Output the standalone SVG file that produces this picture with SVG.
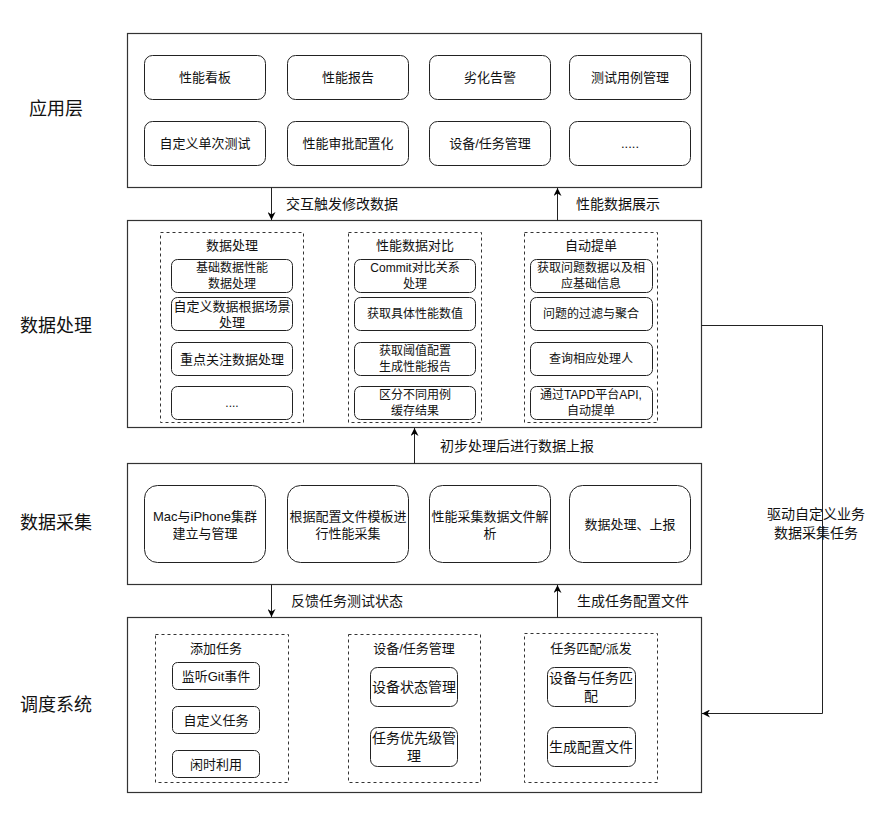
<svg xmlns="http://www.w3.org/2000/svg" width="877" height="839" viewBox="0 0 877 839">
  <style>
    text { font-family: "Liberation Sans", "Noto Sans CJK SC", sans-serif; fill: #111; text-anchor: middle; dominant-baseline: central; }
    .layer { fill: #fff; stroke: #333; stroke-width: 1.2; }
    .box { fill: #fff; stroke: #222; stroke-width: 1; }
    .grp { fill: none; stroke: #333; stroke-width: 1; stroke-dasharray: 3 3; }
    .side { font-size: 18px; }
    .t13 { font-size: 13px; }
    .t12 { font-size: 12px; }
    .t14 { font-size: 14px; }
    .lbl { font-size: 14px; text-anchor: start; }
    .edge { fill: none; stroke: #222; stroke-width: 1; }
  </style>
  <defs>
    <marker id="arrow" viewBox="0 0 10 10" refX="10" refY="5" markerWidth="8" markerHeight="8" markerUnits="userSpaceOnUse" orient="auto">
      <path d="M0,0 L10,5 L0,10 L3,5 Z" fill="#000"/>
    </marker>
  </defs>

  <rect width="877" height="839" fill="#fff"/>

  <!-- layer titles -->
  <g id="layer-titles">
    <text class="side" x="56" y="109">应用层</text>
    <text class="side" x="56" y="326">数据处理</text>
    <text class="side" x="56" y="523">数据采集</text>
    <text class="side" x="56" y="705">调度系统</text>
  </g>

  <!-- application layer -->
  <g id="app-layer">
    <rect class="layer" x="127.5" y="33.5" width="574" height="154"/>
    <g id="app-dashboard"><rect class="box" x="144.5" y="55.5" width="121" height="44" rx="8"/><text class="t13" x="205" y="77.5">性能看板</text></g>
    <g id="app-report"><rect class="box" x="287.5" y="55.5" width="121" height="44" rx="8"/><text class="t13" x="348" y="77.5">性能报告</text></g>
    <g id="app-alert"><rect class="box" x="429.5" y="55.5" width="121" height="44" rx="8"/><text class="t13" x="490" y="77.5">劣化告警</text></g>
    <g id="app-testcase"><rect class="box" x="569.5" y="55.5" width="121" height="44" rx="8"/><text class="t13" x="630" y="77.5">测试用例管理</text></g>
    <g id="app-single-test"><rect class="box" x="144.5" y="121.5" width="121" height="44" rx="8"/><text class="t13" x="205" y="143.5">自定义单次测试</text></g>
    <g id="app-approval"><rect class="box" x="287.5" y="121.5" width="121" height="44" rx="8"/><text class="t13" x="348" y="143.5">性能审批配置化</text></g>
    <g id="app-device-task"><rect class="box" x="429.5" y="121.5" width="121" height="44" rx="8"/><text class="t13" x="490" y="143.5">设备/任务管理</text></g>
    <g id="app-more"><rect class="box" x="569.5" y="121.5" width="121" height="44" rx="8"/><text class="t13" x="630" y="143.5">.....</text></g>
  </g>

  <!-- data processing layer -->
  <g id="processing-layer">
    <rect class="layer" x="127.5" y="220.5" width="574" height="207"/>
    <g id="grp-processing">
      <rect class="grp" x="160.5" y="232.5" width="143" height="190"/>
      <text class="t13" x="232" y="245">数据处理</text>
      <g id="p-basic"><rect class="box" x="171.5" y="259.5" width="121" height="33" rx="6"/><text class="t12" x="232" y="268">基础数据性能</text><text class="t12" x="232" y="284">数据处理</text></g>
      <g id="p-custom"><rect class="box" x="171.5" y="297.5" width="121" height="33" rx="6"/><text class="t13" x="232" y="306">自定义数据根据场景</text><text class="t13" x="232" y="322">处理</text></g>
      <g id="p-focus"><rect class="box" x="171.5" y="342.5" width="121" height="33" rx="6"/><text class="t13" x="232" y="359">重点关注数据处理</text></g>
      <g id="p-more"><rect class="box" x="171.5" y="386.5" width="121" height="33" rx="6"/><text class="t12" x="232" y="403">....</text></g>
    </g>
    <g id="grp-compare">
      <rect class="grp" x="348.5" y="232.5" width="133" height="190"/>
      <text class="t13" x="415" y="245">性能数据对比</text>
      <g id="c-commit"><rect class="box" x="354.5" y="259.5" width="121" height="33" rx="6"/><text class="t12" x="415" y="268">Commit对比关系</text><text class="t12" x="415" y="284">处理</text></g>
      <g id="c-values"><rect class="box" x="354.5" y="297.5" width="121" height="33" rx="6"/><text class="t12" x="415" y="314">获取具体性能数值</text></g>
      <g id="c-threshold"><rect class="box" x="354.5" y="342.5" width="121" height="33" rx="6"/><text class="t12" x="415" y="351">获取阈值配置</text><text class="t12" x="415" y="367">生成性能报告</text></g>
      <g id="c-cache"><rect class="box" x="354.5" y="386.5" width="121" height="33" rx="6"/><text class="t12" x="415" y="395">区分不同用例</text><text class="t12" x="415" y="411">缓存结果</text></g>
    </g>
    <g id="grp-ticket">
      <rect class="grp" x="524.5" y="232.5" width="133" height="190"/>
      <text class="t13" x="591" y="245">自动提单</text>
      <g id="t-fetch"><rect class="box" x="530.5" y="259.5" width="122" height="33" rx="6"/><text class="t12" x="591" y="268">获取问题数据以及相</text><text class="t12" x="591" y="284">应基础信息</text></g>
      <g id="t-filter"><rect class="box" x="530.5" y="297.5" width="122" height="33" rx="6"/><text class="t12" x="591" y="314">问题的过滤与聚合</text></g>
      <g id="t-owner"><rect class="box" x="530.5" y="342.5" width="122" height="33" rx="6"/><text class="t12" x="591" y="359">查询相应处理人</text></g>
      <g id="t-tapd"><rect class="box" x="530.5" y="386.5" width="122" height="33" rx="6"/><text class="t12" x="591" y="395">通过TAPD平台API,</text><text class="t12" x="591" y="411">自动提单</text></g>
    </g>
  </g>

  <!-- data collection layer -->
  <g id="collection-layer">
    <rect class="layer" x="127.5" y="463.5" width="574" height="121"/>
    <g id="dc-cluster"><rect class="box" x="144.5" y="485.5" width="121" height="77" rx="13"/><text class="t13" x="205" y="516">Mac与iPhone集群</text><text class="t13" x="205" y="533">建立与管理</text></g>
    <g id="dc-template"><rect class="box" x="287.5" y="485.5" width="121" height="77" rx="13"/><text class="t13" x="348" y="516">根据配置文件模板进</text><text class="t13" x="348" y="533">行性能采集</text></g>
    <g id="dc-parse"><rect class="box" x="429.5" y="485.5" width="121" height="77" rx="13"/><text class="t13" x="490" y="516">性能采集数据文件解</text><text class="t13" x="490" y="533">析</text></g>
    <g id="dc-report"><rect class="box" x="569.5" y="485.5" width="121" height="77" rx="13"/><text class="t13" x="630" y="524">数据处理、上报</text></g>
  </g>

  <!-- scheduling layer -->
  <g id="scheduling-layer">
    <rect class="layer" x="127.5" y="617.5" width="574" height="175"/>
    <g id="grp-add-task">
      <rect class="grp" x="155.5" y="634.5" width="133" height="148"/>
      <text class="t13" x="216" y="648">添加任务</text>
      <g id="s-git"><rect class="box" x="172.5" y="662.5" width="87" height="27" rx="5"/><text class="t13" x="216" y="676">监听Git事件</text></g>
      <g id="s-custom"><rect class="box" x="172.5" y="706.5" width="87" height="27" rx="5"/><text class="t13" x="216" y="720">自定义任务</text></g>
      <g id="s-idle"><rect class="box" x="172.5" y="750.5" width="87" height="27" rx="5"/><text class="t13" x="216" y="764">闲时利用</text></g>
    </g>
    <g id="grp-device-task">
      <rect class="grp" x="348.5" y="634.5" width="132" height="148"/>
      <text class="t13" x="414" y="648">设备/任务管理</text>
      <g id="s-device-state"><rect class="box" x="370.5" y="667.5" width="87" height="39" rx="7"/><text class="t14" x="414" y="687">设备状态管理</text></g>
      <g id="s-priority"><rect class="box" x="370.5" y="727.5" width="87" height="39" rx="7"/><text class="t14" x="414" y="738">任务优先级管</text><text class="t14" x="414" y="756">理</text></g>
    </g>
    <g id="grp-dispatch">
      <rect class="grp" x="524.5" y="633.5" width="133" height="149"/>
      <text class="t13" x="591" y="648">任务匹配/派发</text>
      <g id="s-match"><rect class="box" x="547.5" y="667.5" width="88" height="39" rx="7"/><text class="t14" x="591" y="678">设备与任务匹</text><text class="t14" x="591" y="696">配</text></g>
      <g id="s-config"><rect class="box" x="547.5" y="727.5" width="88" height="39" rx="7"/><text class="t14" x="591" y="747">生成配置文件</text></g>
    </g>
  </g>

  <!-- connectors -->
  <g id="connectors">
    <path class="edge" d="M271.5,187.5 V220" marker-end="url(#arrow)"/>
    <path class="edge" d="M557.5,220.5 V188" marker-end="url(#arrow)"/>
    <path class="edge" d="M414.5,463.5 V428" marker-end="url(#arrow)"/>
    <path class="edge" d="M271.5,584.5 V617" marker-end="url(#arrow)"/>
    <path class="edge" d="M557.5,617.5 V585" marker-end="url(#arrow)"/>
    <path class="edge" d="M701.5,325.5 H822.5 V713.5 H702" marker-end="url(#arrow)"/>
  </g>

  <!-- connector labels -->
  <g id="edge-labels">
    <text class="lbl" x="286" y="204">交互触发修改数据</text>
    <text class="lbl" x="576" y="204">性能数据展示</text>
    <text class="lbl" x="440" y="446">初步处理后进行数据上报</text>
    <text class="lbl" x="291" y="601">反馈任务测试状态</text>
    <text class="lbl" x="577" y="601">生成任务配置文件</text>
    <text class="t14" x="816" y="514">驱动自定义业务</text>
    <text class="t14" x="816" y="533">数据采集任务</text>
  </g>
</svg>
